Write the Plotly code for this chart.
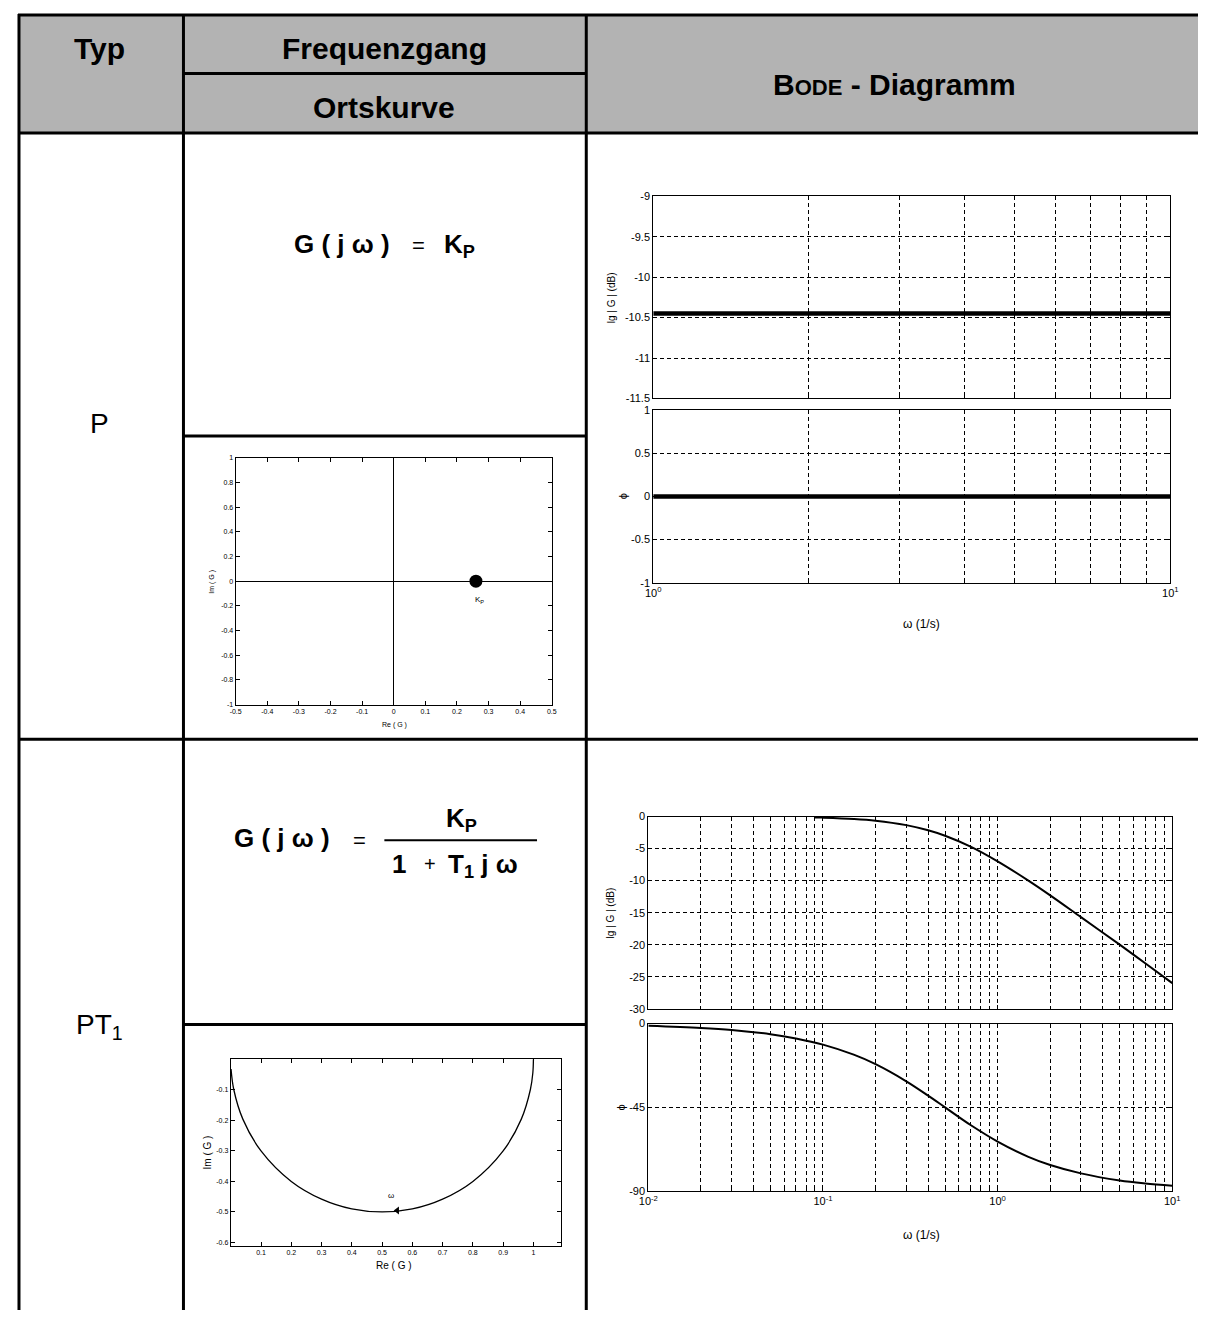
import plotly.graph_objects as go
import numpy as np

# target picture size and page margin of the default html body
W, H = 1206, 1318
OFF = 8
FW, FH = W - 2 * OFF, H - 2 * OFF
FONT = "Liberation Sans, Arial, sans-serif"

# ---------------- data ----------------
header_typ = "Typ"
header_freq = "Frequenzgang"
header_orts = "Ortskurve"
row_types = ["P", "PT<sub>1</sub>"]

# P element: Ortskurve (single point K_P)
p_nyq_re = [0.26]
p_nyq_im = [0.0]
p_nyq_xticks = [-0.5, -0.4, -0.3, -0.2, -0.1, 0, 0.1, 0.2, 0.3, 0.4, 0.5]
p_nyq_xticktext = ["-0.5", "-0.4", "-0.3", "-0.2", "-0.1", "0", "0.1", "0.2", "0.3", "0.4", "0.5"]
p_nyq_yticks = [-1, -0.8, -0.6, -0.4, -0.2, 0, 0.2, 0.4, 0.6, 0.8, 1]
p_nyq_yticktext = ["-1", "-0.8", "-0.6", "-0.4", "-0.2", "0", "0.2", "0.4", "0.6", "0.8", "1"]

# P element: Bode
p_bode_w = [1.0, 10.0]
p_bode_mag = [-10.45, -10.45]
p_bode_phase = [0.0, 0.0]
p_mag_ticks = [-11.5, -11, -10.5, -10, -9.5, -9]
p_mag_ticktext = ["-11.5", "-11", "-10.5", "-10", "-9.5", "-9"]
p_phase_ticks = [-1, -0.5, 0, 0.5, 1]
p_phase_ticktext = ["-1", "-0.5", "0", "0.5", "1"]
p_w_major = [1, 10]
p_w_major_text = ["10<sup>0</sup>", "10<sup>1</sup>"]
p_w_minor = [2, 3, 4, 5, 6, 7, 8, 9]

# PT1 element: Bode
pt1_mag_w = [0.09, 0.1, 0.15, 0.2, 0.3, 0.4, 0.5, 0.7, 1, 1.5, 2, 3, 5, 7, 10]
pt1_mag_db = [-0.14, -0.17, -0.37, -0.64, -1.34, -2.15, -3.0, -4.7, -7.0, -10.0, -12.3, -15.7, -20.0, -22.9, -26.0]
pt1_phase_w = [0.01, 0.02, 0.03, 0.05, 0.07, 0.1, 0.15, 0.2, 0.3, 0.4, 0.5, 0.7, 1, 1.5, 2, 3, 5, 7, 10]
pt1_phase_deg = [-1.1, -2.3, -3.4, -5.7, -8.0, -11.3, -16.7, -21.8, -31.0, -38.7, -45.0, -54.5,
                 -63.4, -71.6, -76.0, -80.5, -84.3, -85.9, -87.1]
pt1_mag_ticks = [-30, -25, -20, -15, -10, -5, 0]
pt1_mag_ticktext = ["-30", "-25", "-20", "-15", "-10", "-5", "0"]
pt1_phase_ticks = [-90, -45, 0]
pt1_phase_ticktext = ["-90", "-45", "0"]
pt1_w_major = [0.01, 0.1, 1, 10]
pt1_w_major_text = ["10<sup>-2</sup>", "10<sup>-1</sup>", "10<sup>0</sup>", "10<sup>1</sup>"]
pt1_w_minor = [0.02, 0.03, 0.04, 0.05, 0.06, 0.07, 0.08, 0.09,
               0.2, 0.3, 0.4, 0.5, 0.6, 0.7, 0.8, 0.9,
               2, 3, 4, 5, 6, 7, 8, 9]

# PT1 element: Ortskurve (semicircle)
pt1_nyq_re = [1.0, 0.998, 0.99, 0.96, 0.9, 0.8, 0.7, 0.6, 0.5, 0.4, 0.3, 0.2, 0.1, 0.04, 0.01, 0.001]
pt1_nyq_im = [0.0, -0.045, -0.099, -0.196, -0.3, -0.4, -0.458, -0.49, -0.5, -0.49, -0.458, -0.4,
              -0.3, -0.196, -0.099, -0.032]
pt1_nyq_xticks = [0.1, 0.2, 0.3, 0.4, 0.5, 0.6, 0.7, 0.8, 0.9, 1.0]
pt1_nyq_xticktext = ["0.1", "0.2", "0.3", "0.4", "0.5", "0.6", "0.7", "0.8", "0.9", "1"]
pt1_nyq_yticks = [-0.6, -0.5, -0.4, -0.3, -0.2, -0.1]
pt1_nyq_yticktext = ["-0.6", "-0.5", "-0.4", "-0.3", "-0.2", "-0.1"]


# ---------------- helpers (page pixel -> paper coords) ----------------
def px(x):
    return (x - OFF) / FW


def py(y):
    return 1 - (y - OFF) / FH


def dom_x(x0, x1):
    return [px(x0), px(x1)]


def dom_y(y0, y1):
    return [py(y1), py(y0)]


def base_axis(size, **kw):
    d = dict(showline=True, linecolor="black", linewidth=1, mirror="ticks",
             ticks="inside", ticklen=4, tickwidth=1, tickcolor="black",
             showgrid=False, zeroline=False, fixedrange=True,
             tickfont=dict(family=FONT, size=size, color="black"))
    d.update(kw)
    return d


GRID = dict(showgrid=True, gridcolor="black", gridwidth=1, griddash="4px,3px")


def minor_grid(vals):
    return dict(tickmode="array", tickvals=vals, ticks="inside", ticklen=3, tickcolor="black",
                showgrid=True, gridcolor="black", gridwidth=1, griddash="4px,3px")


fig = go.Figure()

# traces
fig.add_trace(go.Scatter(x=p_nyq_re, y=p_nyq_im, mode="markers",
                         marker=dict(size=13, color="black"), xaxis="x", yaxis="y"))
fig.add_trace(go.Scatter(x=p_bode_w, y=p_bode_mag, mode="lines",
                         line=dict(color="black", width=4.5), xaxis="x2", yaxis="y2"))
fig.add_trace(go.Scatter(x=p_bode_w, y=p_bode_phase, mode="lines",
                         line=dict(color="black", width=4.5), xaxis="x3", yaxis="y3"))
fig.add_trace(go.Scatter(x=pt1_mag_w, y=pt1_mag_db, mode="lines", line_shape="spline",
                         line=dict(color="black", width=2), xaxis="x4", yaxis="y4"))
fig.add_trace(go.Scatter(x=pt1_phase_w, y=pt1_phase_deg, mode="lines", line_shape="spline",
                         line=dict(color="black", width=2), xaxis="x5", yaxis="y5"))
fig.add_trace(go.Scatter(x=pt1_nyq_re, y=pt1_nyq_im, mode="lines", line_shape="spline",
                         line=dict(color="black", width=1.3), xaxis="x6", yaxis="y6"))

# omega direction arrow head on the PT1 Ortskurve, placed on the curve
re_sorted = np.array(pt1_nyq_re[::-1])
im_sorted = np.array(pt1_nyq_im[::-1])
head_re = 0.55
head_im = float(np.interp(head_re, re_sorted, im_sorted))
fig.add_trace(go.Scatter(x=[head_re], y=[head_im], mode="markers",
                         marker=dict(symbol="triangle-left", size=7, color="black"),
                         xaxis="x6", yaxis="y6"))

layout = dict(
    width=FW, height=FH, margin=dict(l=0, r=0, t=0, b=0),
    paper_bgcolor="white", plot_bgcolor="white", showlegend=False,
    font=dict(family=FONT, color="black"),
)

# P Ortskurve
layout["xaxis"] = base_axis(7, domain=dom_x(229, 550), anchor="y", range=[-0.5, 0.5],
                            tickmode="array", tickvals=p_nyq_xticks, ticktext=p_nyq_xticktext,
                            zeroline=True, zerolinecolor="black", zerolinewidth=1)
layout["yaxis"] = base_axis(7, domain=dom_y(456, 705), anchor="x", range=[-1, 1],
                            tickmode="array", tickvals=p_nyq_yticks, ticktext=p_nyq_yticktext,
                            zeroline=True, zerolinecolor="black", zerolinewidth=1)
# P Bode magnitude
layout["xaxis2"] = base_axis(11, domain=dom_x(653, 1178), anchor="y2", type="log", range=[0, 1],
                             tickmode="array", tickvals=p_w_major, ticktext=p_w_major_text,
                             showticklabels=False, minor=minor_grid(p_w_minor), **GRID)
layout["yaxis2"] = base_axis(11, domain=dom_y(192, 396), anchor="x2", range=[-11.5, -9],
                             tickmode="array", tickvals=p_mag_ticks, ticktext=p_mag_ticktext, **GRID)
# P Bode phase
layout["xaxis3"] = base_axis(11, domain=dom_x(653, 1178), anchor="y3", type="log", range=[0, 1],
                             tickmode="array", tickvals=p_w_major, ticktext=p_w_major_text,
                             minor=minor_grid(p_w_minor), **GRID)
layout["yaxis3"] = base_axis(11, domain=dom_y(408, 582), anchor="x3", range=[-1, 1],
                             tickmode="array", tickvals=p_phase_ticks, ticktext=p_phase_ticktext, **GRID)
# PT1 Bode magnitude
layout["xaxis4"] = base_axis(11, domain=dom_x(648, 1180), anchor="y4", type="log", range=[-2, 1],
                             tickmode="array", tickvals=pt1_w_major, ticktext=pt1_w_major_text,
                             showticklabels=False, minor=minor_grid(pt1_w_minor), **GRID)
layout["yaxis4"] = base_axis(11, domain=dom_y(818, 1012), anchor="x4", range=[-30, 0],
                             tickmode="array", tickvals=pt1_mag_ticks, ticktext=pt1_mag_ticktext, **GRID)
# PT1 Bode phase
layout["xaxis5"] = base_axis(11, domain=dom_x(648, 1180), anchor="y5", type="log", range=[-2, 1],
                             tickmode="array", tickvals=pt1_w_major, ticktext=pt1_w_major_text,
                             minor=minor_grid(pt1_w_minor), **GRID)
layout["yaxis5"] = base_axis(11, domain=dom_y(1027, 1196), anchor="x5", range=[-90, 0],
                             tickmode="array", tickvals=pt1_phase_ticks, ticktext=pt1_phase_ticktext, **GRID)
# PT1 Ortskurve
layout["xaxis6"] = base_axis(7, domain=dom_x(224, 559), anchor="y6", range=[0, 1.09],
                             tickmode="array", tickvals=pt1_nyq_xticks, ticktext=pt1_nyq_xticktext)
layout["yaxis6"] = base_axis(7, domain=dom_y(1063, 1251), anchor="x6", range=[-0.61, 0],
                             tickmode="array", tickvals=pt1_nyq_yticks, ticktext=pt1_nyq_yticktext)

fig.update_layout(**layout)

# ---------------- table ----------------
shapes = []
shapes.append(dict(type="rect", xref="paper", yref="paper", x0=px(8), x1=px(1220), y0=py(128), y1=py(8),
                   fillcolor="#b3b3b3", line=dict(width=0), layer="below"))
LW = 3


def hline(y, x0, x1):
    shapes.append(dict(type="line", xref="paper", yref="paper", x0=px(x0), x1=px(x1), y0=py(y), y1=py(y),
                       line=dict(color="black", width=LW)))


def vline(x, y0, y1):
    shapes.append(dict(type="line", xref="paper", yref="paper", x0=px(x), x1=px(x), y0=py(y0), y1=py(y1),
                       line=dict(color="black", width=LW)))


vline(9, 8, 1330)
vline(176, 8, 1330)
vline(585, 8, 1330)
hline(9, 8, 1220)
hline(128, 8, 1220)
hline(68, 176, 585)
hline(434, 176, 585)
hline(740, 8, 1220)
hline(1028, 176, 585)
# fraction bar of PT1 formula
shapes.append(dict(type="line", xref="paper", yref="paper", x0=px(380), x1=px(535), y0=py(842), y1=py(842),
                   line=dict(color="black", width=2)))
fig.update_layout(shapes=shapes)

# ---------------- text ----------------
anns = []


def ann(text, x, y, size, angle=0, xanchor="center", yanchor="middle"):
    anns.append(dict(text=text, x=px(x), y=py(y), xref="paper", yref="paper", showarrow=False,
                     textangle=angle, xanchor=xanchor, yanchor=yanchor,
                     font=dict(family=FONT, size=size, color="black")))


ann("<b>" + header_typ + "</b>", 91, 43, 30)
ann("<b>" + header_freq + "</b>", 380, 43, 30)
ann("<b>" + header_orts + "</b>", 380, 102, 30)
ann("<b>B<span style='font-size:22px'>ODE</span> - Diagramm</b>", 898, 79, 30)

ann(row_types[0], 91, 421, 28)
ann(row_types[1], 91, 1030, 28)

# P formula
ann("<b>G ( j ω )</b>", 337, 240, 26)
ann("=", 415, 242, 22)
ann("<b>K<sub>P</sub></b>", 456, 242, 26)

# PT1 formula
ann("<b>G ( j ω )</b>", 276, 840, 26)
ann("=", 355, 842, 22)
ann("<b>K<sub>P</sub></b>", 458, 821, 26)
ann("<b>1</b>", 395, 866, 26)
ann("+", 426, 866, 20)
ann("<b>T<sub>1</sub> j ω</b>", 480, 867, 26)

# axis titles
ann("Im ( G )", 205, 581, 7, angle=-90)
ann("Re ( G )", 390, 726, 7)
ann("lg | G | (dB)", 610, 294, 10, angle=-90)
ann("ϕ", 622, 495, 11, angle=-90)
ann("ω (1/s)", 925, 624, 12)
ann("lg | G | (dB)", 610, 915, 10, angle=-90)
ann("ϕ", 620, 1112, 11, angle=-90)
ann("ω (1/s)", 925, 1240, 12)
ann("Im ( G )", 200, 1157, 10, angle=-90)
ann("Re ( G )", 390, 1271, 10)

# K_P label next to the point (data coords)
anns.append(dict(text="K<sub>P</sub>", x=p_nyq_re[0] + 0.01, y=p_nyq_im[0] - 0.15, xref="x", yref="y",
                 showarrow=False, font=dict(family=FONT, size=8, color="black")))
# omega label above the arrow head
anns.append(dict(text="ω", x=head_re - 0.02, y=head_im + 0.05,
                 xref="x6", yref="y6", showarrow=False, font=dict(family=FONT, size=8, color="black")))

fig.update_layout(annotations=anns)

fig.write_html("out.html", config={"displayModeBar": False})
